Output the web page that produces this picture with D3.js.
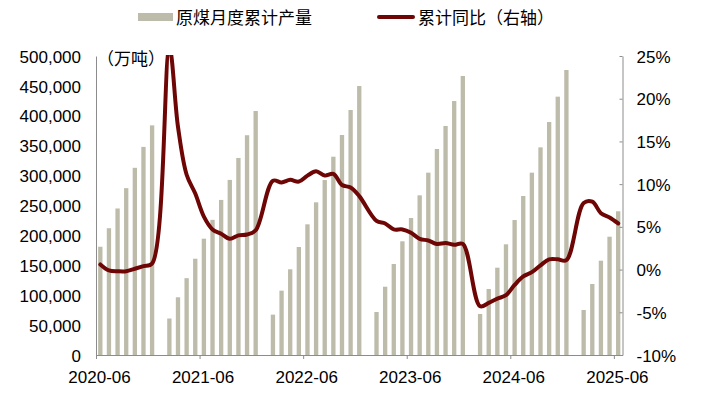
<!DOCTYPE html>
<html><head><meta charset="utf-8">
<script src="https://cdn.jsdelivr.net/npm/d3@7"></script>
<style>
html,body{margin:0;padding:0;background:#fff;}
svg text{font-family:"Liberation Sans","Noto Sans CJK SC",Arial,sans-serif;fill:#000;}
</style></head>
<body><svg id="c" width="701" height="396"></svg>
<script>
const months = [
 "2020-06","2020-07","2020-08","2020-09","2020-10","2020-11","2020-12",
 "2021-01","2021-02","2021-03","2021-04","2021-05","2021-06","2021-07","2021-08","2021-09","2021-10","2021-11","2021-12",
 "2022-01","2022-02","2022-03","2022-04","2022-05","2022-06","2022-07","2022-08","2022-09","2022-10","2022-11","2022-12",
 "2023-01","2023-02","2023-03","2023-04","2023-05","2023-06","2023-07","2023-08","2023-09","2023-10","2023-11","2023-12",
 "2024-01","2024-02","2024-03","2024-04","2024-05","2024-06","2024-07","2024-08","2024-09","2024-10","2024-11","2024-12",
 "2025-01","2025-02","2025-03","2025-04","2025-05","2025-06"];
// 原煤月度累计产量（万吨）
const production = [
 181000,212000,245000,279000,313000,348000,384000,
 null,61000,96500,128500,161000,194500,226000,259300,292800,329500,367500,408000,
 null,67500,107600,143300,180600,218500,255300,292600,331600,367900,409700,449800,
 null,71900,114200,152200,190100,229100,267000,304900,344500,383000,424700,466600,
 null,68600,110400,146000,185100,225700,265900,304900,347200,389600,432000,476600,
 null,75300,118700,157700,197800,240300];
// 累计同比（%）
const yoy = [
 0.6,-0.1,-0.2,-0.2,0.1,0.4,0.7,
 null,25.9,16.7,11.1,8.9,6.2,4.7,4.2,3.6,4.0,4.1,4.6,
 null,10.4,10.2,10.5,10.3,11.0,11.5,11.0,11.2,9.9,9.6,8.6,
 null,5.7,5.4,4.7,4.7,4.3,3.6,3.4,3.0,3.1,2.9,3.0,
 null,-4.3,-3.9,-3.4,-3.0,-1.8,-0.8,-0.3,0.5,1.2,1.2,1.1,
 null,7.8,7.95,6.6,6.1,5.4];
const leftTicks = [0,50000,100000,150000,200000,250000,300000,350000,400000,450000,500000];
const rightTicks = [-10,-5,0,5,10,15,20,25];
const xTickLabels = ["2020-06","2021-06","2022-06","2023-06","2024-06","2025-06"];
const legendLabels = ["原煤月度累计产量","累计同比（右轴）"];
const unitLabel = "（万吨）";

const svg = d3.select("#c");
const L = 96, R = 622.5, T = 56, B = 355;
const barColor = "#BDBBA9", lineColor = "#6E0606", axisColor = "#8C8C8C";

const x = d3.scaleBand().domain(months).range([L, R]).paddingInner(0.5).paddingOuter(0.25);
const xPos = d3.scaleBand().domain(months).range([L, R]);
const xLin = d3.scaleLinear().domain([0, months.length]).range([L, R]);
const yL = d3.scaleLinear().domain([0, 500000]).range([B, T]);
const yR = d3.scaleLinear().domain([-10, 25]).range([B, T]);

// bars
svg.append("g").selectAll("rect")
  .data(months.map((m,i)=>({m, v: production[i]})).filter(d=>d.v!=null))
  .join("rect")
  .attr("x", d=>x(d.m)).attr("width", x.bandwidth())
  .attr("y", d=>yL(d.v)).attr("height", d=>B - yL(d.v))
  .attr("fill", barColor);

// left axis
const gL = svg.append("g").attr("transform",`translate(${L},0)`)
  .call(d3.axisLeft(yL).tickValues(leftTicks).tickFormat(d3.format(",")).tickSize(0).tickPadding(15));
gL.select(".domain").attr("stroke", axisColor).attr("stroke-width",1);
gL.selectAll("text").attr("font-size",17).attr("dy","0.36em");

// right axis
const gR = svg.append("g").attr("transform",`translate(${R},0)`)
  .call(d3.axisRight(yR).tickValues(rightTicks).tickFormat(d=>d+"%").tickSizeInner(-3).tickSizeOuter(0).tickPadding(14));
gR.selectAll(".domain,line").attr("stroke", axisColor);
gR.selectAll("text").attr("font-size",17).attr("dy","0.36em");

// bottom axis
const gB = svg.append("g").attr("transform",`translate(0,${B})`)
  .call(d3.axisBottom(xLin).tickValues(xTickLabels.map(l=>months.indexOf(l)))
     .tickFormat(i=>months[i]).tickSizeInner(4).tickSizeOuter(0).tickPadding(12));
gB.selectAll(".domain,line").attr("stroke", axisColor);
gB.selectAll("text").attr("font-size",17).attr("dx","3").attr("dy","0.71em");

// line
svg.append("defs").append("clipPath").attr("id","clip")
  .append("rect").attr("x",L-10).attr("y",T-1).attr("width",R-L+20).attr("height",B-T+20);
const lineData = months.map((m,i)=>({m, v: yoy[i]})).filter(d=>d.v!=null);
svg.append("path").datum(lineData)
  .attr("clip-path","url(#clip)")
  .attr("fill","none").attr("stroke",lineColor).attr("stroke-width",4)
  .attr("stroke-linejoin","round").attr("stroke-linecap","round")
  .attr("d", d3.line().x(d=>xPos(d.m)+xPos.bandwidth()/2).y(d=>yR(d.v)).curve(d3.curveCatmullRom.alpha(0.5)));

// unit label
svg.append("text").attr("x",97).attr("y",65).attr("font-size",17).text(unitLabel);

// legend
const lg = svg.append("g");
lg.append("rect").attr("x",138).attr("y",13).attr("width",35).attr("height",8).attr("fill",barColor);
lg.append("text").attr("x",176).attr("y",24).attr("font-size",17).text(legendLabels[0]);
lg.append("line").attr("x1",379).attr("x2",413).attr("y1",17).attr("y2",17)
  .attr("stroke",lineColor).attr("stroke-width",4).attr("stroke-linecap","round");
lg.append("text").attr("x",418).attr("y",24).attr("font-size",17).text(legendLabels[1]);
</script></body></html>
